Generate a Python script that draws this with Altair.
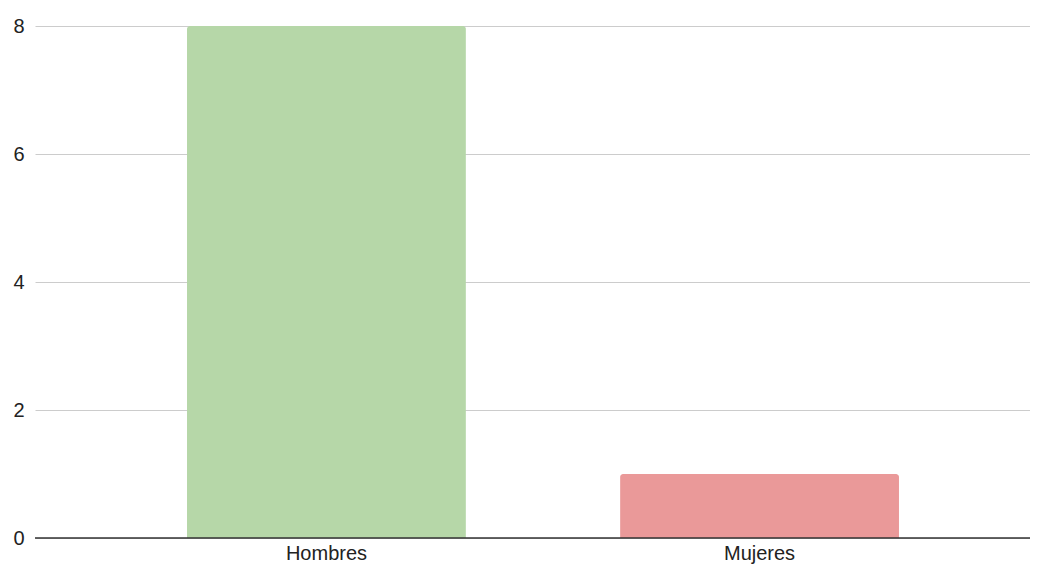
import altair as alt
import pandas as pd

categories = ["Hombres", "Mujeres"]
values = [8, 1]
colors = ["#b6d7a8", "#ea9999"]

df = pd.DataFrame({"cat": categories, "val": values, "color": colors})

base = alt.Chart(df)

bars = base.mark_bar(cornerRadiusTopLeft=3, cornerRadiusTopRight=3).encode(
    x=alt.X("cat:N", sort=categories, title=None,
            scale=alt.Scale(paddingInner=0.356, paddingOuter=0.351, range=[0, 1016]),
            axis=alt.Axis(labelAngle=0, labelFontSize=20, labelColor="#222222",
                          labelFont="Liberation Sans", labelPadding=5, ticks=False, domain=False)),
    y=alt.Y("val:Q", title=None,
            scale=alt.Scale(domain=[0, 8]),
            axis=alt.Axis(values=[0, 2, 4, 6, 8], format="d", labelFontSize=20,
                          labelColor="#222222", labelFont="Liberation Sans", labelPadding=11,
                          ticks=False, domain=False, gridColor="#cccccc", gridWidth=1)),
    color=alt.Color("color:N", scale=None),
)

zero = alt.Chart(pd.DataFrame({"z": [0]})).mark_rule(color="#333333", strokeWidth=1.5).encode(
    y=alt.Y("z:Q")
)

chart = alt.layer(bars, zero).properties(
    width=995, height=512,
    autosize=alt.AutoSizeParams(type="none"),
    padding={"left": 27, "top": 18, "right": 0, "bottom": 28},
).configure_view(stroke=None)

chart.save("out.html", embed_options={"renderer": "svg", "actions": False})
